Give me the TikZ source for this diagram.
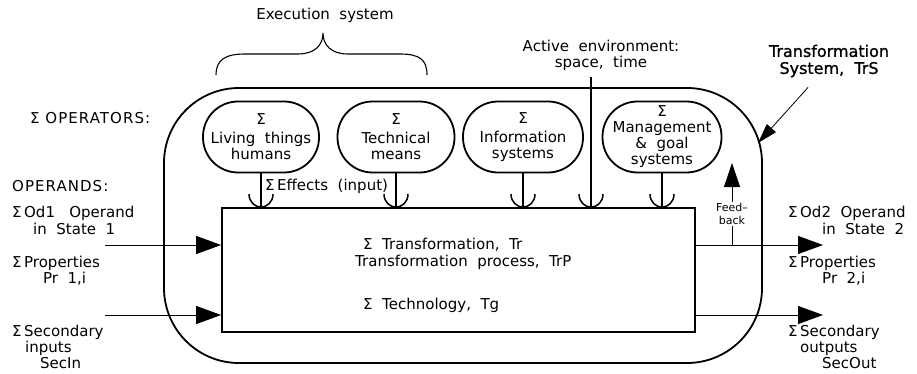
\documentclass[tikz,border=0pt]{standalone}
\usepackage{fontspec}
\setmainfont{DejaVu Sans}
\newfontfamily\trsfont{DejaVu Sans}[FakeBold=1]
\newfontfamily\capsfont{DejaVu Sans}[LetterSpace=7]
\usetikzlibrary{arrows.meta,calc}
\tikzset{
  base/.style={font=\fontsize{15}{16}\selectfont, inner sep=0pt},
  lbl/.style={base, anchor=west},
  capslbl/.style={lbl, font=\capsfont\fontsize{15}{16}\selectfont},
  heavy/.style={line width=1.8pt},
  oval/.style={base, draw, heavy, rounded corners=35pt, minimum height=71pt, align=center},
  mainbox/.style={draw, heavy, minimum width=473pt, minimum height=124pt},
  trsbox/.style={draw, heavy, rounded corners=75pt, minimum width=598pt, minimum height=275pt},
  flow/.style={line width=0.9pt, -{Triangle[length=25pt,width=18pt]}},
  fbarrow/.style={line width=0.9pt, -{Triangle[length=24pt,width=16pt]}},
  pointer/.style={line width=0.8pt, -{Triangle[length=20pt,width=12pt]}},
  cupline/.style={line width=1.5pt}
}
\newcommand\mycup[1]{\draw[cupline] ($(#1)+(-12,-13)$) .. controls ($(#1)+(-12,-5)$) and ($(#1)+(-6,0)$) .. (#1) .. controls ($(#1)+(6,0)$) and ($(#1)+(12,-5)$) .. ($(#1)+(12,-13)$);}
\begin{document}
\begin{tikzpicture}[x=1pt,y=-1pt]
\useasboundingbox[fill=white] (0,0) rectangle (917,374);

% Transformation system frame
\node[trsbox] (trs) at (463,225.5) {};
% main transformation box
\node[mainbox] (box) at (458.5,270) {};

% operators
\node[oval, minimum width=116pt] (liv) at (261,137) {Σ\\[3pt]Living\ \ things\\humans};
\node[oval, minimum width=117pt] (tech) at (396,137) {Σ\\[3pt]Technical\\means};
\node[oval, minimum width=120pt] (info) at (523,137) {Σ\\[3pt]Information\\systems};
\node[oval, minimum width=119pt, font=\fontsize{15}{16}\selectfont] (mgmt) at (662,137) {Σ\\Management\\\&\ \ goal\\systems};

% stems with cups
\draw[heavy] (liv.south) -- (liv.south |- box.north) coordinate (c1);
\draw[heavy] (tech.south) -- (tech.south |- box.north) coordinate (c2);
\draw[heavy] (info.south) -- (info.south |- box.north) coordinate (c3);
\draw[heavy] (mgmt.south) -- (mgmt.south |- box.north) coordinate (c4);

% active environment
\node[base, align=center] (act) at (601,55.5) {Active\ \ environment:\\space,\ \ time};
\coordinate (acttop) at ($(act.south)+(-10,6)$);
\draw[heavy] (acttop) -- (acttop |- box.north) coordinate (c5);

\mycup{c1}\mycup{c2}\mycup{c3}\mycup{c4}\mycup{c5}

\node[lbl] (eff) at (265,186) {Σ\,Effects\ \ (input)};

% main box texts
\node[lbl] (t1) at (363,245) {Σ\ \ Transformation,\ \ Tr};
\node[lbl] (t2) at (355,262) {Transformation\ \ process,\ \ TrP};
\node[lbl] (t3) at (363,305) {Σ\ \ Technology,\ \ Tg};

% execution system brace
\node[base] (exec) at (325,15) {Execution\ \ system};
\draw[line width=1.1pt] (216,75) .. controls (216,60) and (225,54) .. (245,54) -- (298,54)
  .. controls (315,54) and (323,45) .. (323,33)
  .. controls (323,45) and (331,54) .. (348,54) -- (400,54)
  .. controls (420,54) and (427,60) .. (427,75);

% TrS label and pointer
\node[base, align=center, font=\trsfont\fontsize{16}{17}\selectfont] (trslbl) at (829,61) {Transformation\\System,\ \ TrS};
\coordinate (trstip) at (758,143);
\draw[pointer] ($(trslbl.south)+(-21,10)$) -- (trstip);

% left labels
\node[capslbl] (ops) at (30,118) {Σ OPERATORS:};
\node[capslbl] (opnds) at (12,186) {OPERANDS:};
\node[lbl] (od1) at (12,213) {Σ\,Od1\ \ \ Operand};
\node[lbl] (st1) at (33,229) {in\ \ State\ \ 1};
\node[lbl] (pr1) at (12,263) {Σ\,Properties};
\node[lbl] (pr1i) at (43,279) {Pr\ \ 1,i};
\node[lbl] (sec1) at (12,332) {Σ\,Secondary};
\node[lbl] (sec1b) at (25,348) {inputs};
\node[lbl] (sec1c) at (40,363) {SecIn};

% right labels
\node[lbl] (od2) at (788,213) {Σ\,Od2\ \ Operand};
\node[lbl] (st2) at (822,229) {in\ \ State\ \ 2};
\node[lbl] (pr2) at (788,263) {Σ\,Properties};
\node[lbl] (pr2i) at (822,279) {Pr\ \ 2,i};
\node[lbl] (sec2) at (788,332) {Σ\,Secondary};
\node[lbl] (sec2b) at (800,349) {outputs};
\node[lbl] (sec2c) at (822,363) {SecOut};

% inputs / outputs
\coordinate (in1) at (105,245);
\coordinate (in2) at (105,315);
\coordinate (out1) at (823,245);
\coordinate (out2) at (823,315);
\draw[flow] (in1) -- (box.west |- in1);
\draw[flow] (in2) -- (box.west |- in2);
\draw[flow] (box.east |- out1) -- (out1);
\draw[flow] (box.east |- out2) -- (out2);

% feedback
\coordinate (fbbase) at (732,245);
\coordinate (fbtip) at (732,163);
\node[base, align=center, font=\fontsize{11}{12.5}\selectfont, inner sep=1.5pt] (fb) at (732,214) {Feed--\\back};
\draw[line width=0.9pt] (fbbase) -- (fb.south);
\draw[fbarrow] (fb.north) -- (fbtip);
\end{tikzpicture}
\end{document}
